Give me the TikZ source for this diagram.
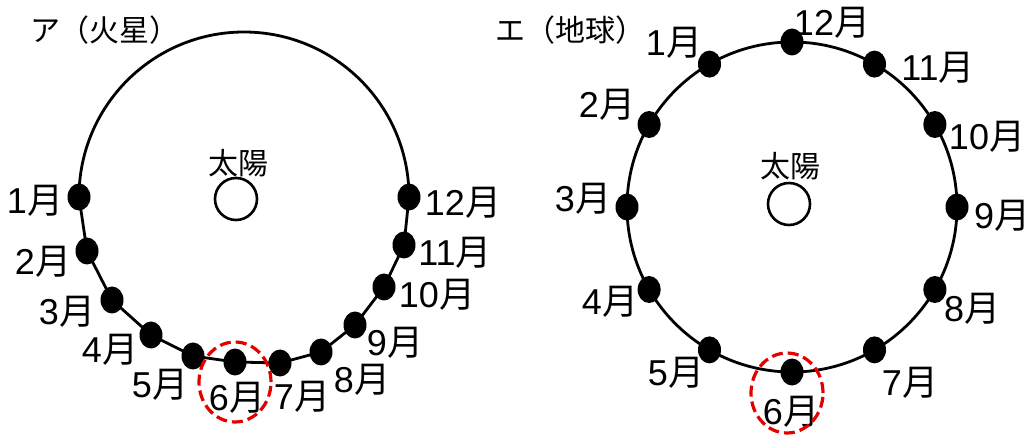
\documentclass[tikz,border=0pt]{standalone}
\usepackage{fontspec}
\setmainfont{Liberation Sans}
\newfontfamily\jpfont{Noto Sans CJK JP}
\newcommand{\mon}[1]{#1{\jpfont 月}}
\usepackage{xcolor}
\usepackage{tikz}
\usetikzlibrary{shapes.geometric,calc}

\begin{document}
\begin{tikzpicture}[
    x=1pt, y=1pt,
    every node/.style={font=\fontsize{36}{38}\selectfont},
    orbit/.style={draw=black, line width=2.8pt},
    planet/.style={ellipse, fill=black, inner sep=0pt, minimum width=23pt, minimum height=27pt},
    sun/.style={circle, draw=black, line width=2.6pt, inner sep=0pt, minimum size=42pt},
    ring/.style={ellipse, draw=red!90!black, dashed, dash pattern=on 11pt off 5pt, line width=3.2pt, inner sep=0pt, minimum width=72pt, minimum height=80pt},
    month/.style={inner sep=0pt},
    head/.style={inner sep=0pt, font=\fontsize{30}{32}\selectfont\jpfont}
]
    \useasboundingbox (0,0) rectangle (1031,434);

    % Mars
    \node[head] (marsT) at (105,404) {ア（火星）};
    \node[sun] (sunM) at (236,235) {};
    \node[head] (sunMT) at (238,271) {太陽};

    \node[planet] (m1) at (79,237) {};
    \node[planet] (m2) at (87,183) {};
    \node[planet] (m3) at (112,134) {};
    \node[planet] (m4) at (151,99) {};
    \node[planet] (m5) at (193,78) {};
    \node[planet] (m6) at (235,72) {};
    \node[planet] (m7) at (280,71) {};
    \node[planet] (m8) at (321,82) {};
    \node[planet] (m9) at (355,109) {};
    \node[planet] (m10) at (384,147) {};
    \node[planet] (m11) at (404,189) {};
    \node[planet] (m12) at (409,237) {};

    \draw[orbit] (m1.center) arc[start angle=180, end angle=0, radius=165];
    \draw[orbit] (m1.center) -- (m2.center) -- (m3.center) -- (m4.center)
        -- (m5.center) -- (m6.center) -- (m7.center) -- (m8.center)
        -- (m9.center) -- (m10.center) -- (m11.center) -- (m12.center);

    \node[month] at (35,233) {\mon{1}};
    \node[month] at (43,172) {\mon{2}};
    \node[month] at (67,122) {\mon{3}};
    \node[month] at (110,84) {\mon{4}};
    \node[month] at (160,49) {\mon{5}};
    \node[month] at (237,36) {\mon{6}};
    \node[month] at (302,37) {\mon{7}};
    \node[month] at (362,54) {\mon{8}};
    \node[month] at (395,91) {\mon{9}};
    \node[month] at (437,139) {\mon{10}};
    \node[month] at (455,181) {\mon{11}};
    \node[month] at (463,231) {\mon{12}};

    \node[ring] (pickM) at (235,52) {};

    % Earth
    \node[head] (earthT) at (570,404) {エ（地球）};
    \coordinate (orbE) at (792,227);
    \node[sun] (sunE) at (789,230) {};
    \node[head] (sunET) at (790,268) {太陽};

    \draw[orbit] (orbE) circle[radius=165];

    \node[planet] (e1) at ($(orbE)+(120:165)$) {};
    \node[planet] (e2) at ($(orbE)+(150:165)$) {};
    \node[planet] (e3) at ($(orbE)+(180:165)$) {};
    \node[planet] (e4) at ($(orbE)+(210:165)$) {};
    \node[planet] (e5) at ($(orbE)+(240:165)$) {};
    \node[planet] (e6) at ($(orbE)+(270:165)$) {};
    \node[planet] (e7) at ($(orbE)+(300:165)$) {};
    \node[planet] (e8) at ($(orbE)+(330:165)$) {};
    \node[planet] (e9) at ($(orbE)+(0:165)$) {};
    \node[planet] (e10) at ($(orbE)+(30:165)$) {};
    \node[planet] (e11) at ($(orbE)+(60:165)$) {};
    \node[planet] (e12) at ($(orbE)+(90:165)$) {};

    \node[month] at (674,391) {\mon{1}};
    \node[month] at (607,329) {\mon{2}};
    \node[month] at (583,235) {\mon{3}};
    \node[month] at (610,132) {\mon{4}};
    \node[month] at (676,61) {\mon{5}};
    \node[month] at (791,22) {\mon{6}};
    \node[month] at (910,51) {\mon{7}};
    \node[month] at (972,125) {\mon{8}};
    \node[month] at (1002,218) {\mon{9}};
    \node[month] at (987,297) {\mon{10}};
    \node[month] at (938,366) {\mon{11}};
    \node[month] at (832,411) {\mon{12}};

    \node[ring] (pickE) at (787,41) {};

\end{tikzpicture}
\end{document}
